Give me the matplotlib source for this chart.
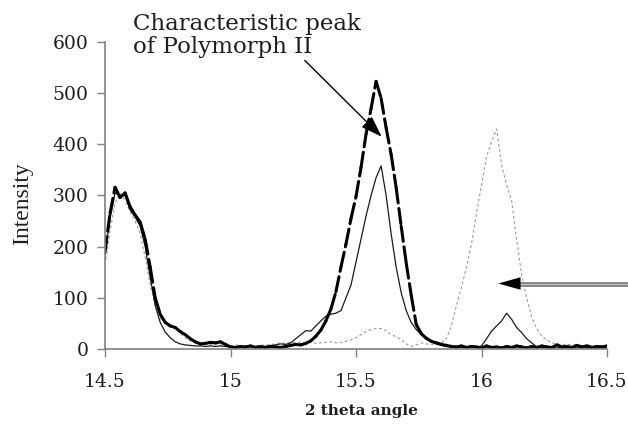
import numpy as np
import matplotlib
matplotlib.use("Agg")
import matplotlib.pyplot as plt
from matplotlib.collections import LineCollection

plt.rcParams['lines.scale_dashes'] = False

# ── data (0.02 deg steps) ─────────────────────────────────────────────────
theta = np.round(np.linspace(14.5, 16.5, 101), 2)

# thick dashed trace (polymorph II peak at 15.58)
trace_dashed = [
    190, 265, 316, 296, 305, 278, 262, 248, 215, 160,
    100, 68, 52, 45, 42, 34, 28, 20, 14, 10,
    11, 13, 12, 14, 9, 4, 3, 5, 4, 6,
    3, 4, 3, 5, 4, 3, 5, 7, 9, 8,
    11, 16, 25, 37, 55, 78, 112, 160, 205, 255,
    298, 355, 420, 470, 523, 490, 432, 380, 315, 240,
    168, 105, 48, 30, 21, 15, 12, 9, 7, 5,
    4, 6, 3, 5, 4, 2, 6, 3, 4, 2,
    5, 3, 6, 4, 2, 5, 3, 6, 4, 3,
    8, 4, 5, 3, 7, 4, 6, 3, 5, 4,
    6]

# thin solid trace
trace_solid = [
    185, 255, 305, 300, 300, 272, 258, 240, 200, 140,
    85, 52, 33, 22, 14, 10, 8, 7, 6, 6,
    5, 6, 5, 6, 5, 4, 4, 5, 4, 5,
    5, 6, 5, 7, 8, 10, 9, 12, 20, 28,
    36, 35, 45, 55, 64, 68, 70, 75, 100, 125,
    170, 215, 260, 300, 335, 358, 300, 225, 160, 110,
    75, 52, 38, 28, 20, 14, 10, 7, 5, 4,
    3, 4, 3, 4, 3, 6, 20, 35, 45, 55,
    70, 58, 42, 32, 20, 12, 4, 3, 2, 3,
    2, 3, 2, 3, 2, 3, 2, 3, 2, 3,
    2]

# grey dotted trace (peak at 16.06)
trace_dotted = [
    165, 230, 285, 305, 290, 268, 250, 225, 180, 125,
    85, 60, 52, 48, 40, 30, 22, 16, 12, 10,
    9, 8, 10, 8, 7, 6, 8, 6, 7, 5,
    6, 8, 7, 9, 10, 12, 11, 13, 12, 14,
    12, 13, 11, 12, 13, 14, 12, 13, 15, 18,
    22, 28, 34, 38, 40, 40, 36, 28, 24, 18,
    10, 5, 8, 12, 10, 9, 10, 12, 20, 45,
    85, 120, 160, 205, 265, 320, 376, 405, 430, 360,
    320, 290, 213, 145, 100, 62, 40, 25, 18, 12,
    10, 8, 10, 7, 9, 6, 8, 7, 5, 7,
    6]

y_ticks = [0, 100, 200, 300, 400, 500, 600]
x_ticks = [14.5, 15, 15.5, 16, 16.5]
x_ticklabels = ['14.5', '15', '15.5', '16', '16.5']

# ── figure ────────────────────────────────────────────────────────────────
fig = plt.figure(figsize=(6.28, 4.25), dpi=100)
ax = fig.add_axes([0.1672, 0.1788, 0.7994, 0.7224])

ax.plot(theta, trace_dotted, color='#9a9a9a', lw=0.8, ls=(0, (2.0, 1.8)))
ax.plot(theta, trace_solid, color='#1a1a1a', lw=0.9)

# dash pattern restarts at every data point (short steps look solid)
pts = np.column_stack([theta, trace_dashed])
segs = np.stack([pts[:-1], pts[1:]], axis=1)
lc = LineCollection(segs, colors='black', linewidths=2.2,
                    linestyles=[(0, (11, 4))], capstyle='round')
ax.add_collection(lc)

ax.set_xlim(14.5, 16.5)
ax.set_ylim(0, 600)
ax.set_xticks(x_ticks)
ax.set_xticklabels(x_ticklabels)
ax.set_yticks(y_ticks)

for s in ('top', 'right'):
    ax.spines[s].set_visible(False)
for s in ('left', 'bottom'):
    ax.spines[s].set_color('#808080')
    ax.spines[s].set_linewidth(1.2)

ax.tick_params(direction='out', length=6, width=1, color='#808080',
               labelcolor='#1e1e1e', labelsize=13.5)
ax.tick_params(axis='y', pad=6)
ax.tick_params(axis='x', pad=11)
for lab in ax.get_xticklabels() + ax.get_yticklabels():
    lab.set_family('DejaVu Serif')

ax.set_ylabel('Intensity', family='Liberation Serif', fontsize=17, color='#1e1e1e')
ax.yaxis.set_label_coords(-0.143, 0.472)
ax.set_xlabel('2 theta angle', family='DejaVu Serif', fontweight='bold',
              fontsize=11, color='#1e1e1e')
ax.xaxis.set_label_coords(0.51, -0.178)

# ── annotations ───────────────────────────────────────────────────────────
fig.text(133 / 628, 1 - 13 / 425, 'Characteristic peak\nof Polymorph II',
         family='DejaVu Serif', fontsize=16.5, color='#1e1e1e',
         ha='left', va='top', linespacing=1.05)

ax.annotate('', xy=(15.602, 415), xytext=(15.296, 564),
            arrowprops=dict(arrowstyle='-|>,head_length=1.3,head_width=0.45',
                            color='black', lw=1, shrinkA=0, shrinkB=0),
            annotation_clip=False)

# grey arrow coming in from the right edge
ax.plot([16.6, 16.12], [128, 128], color='#7a7a7a', lw=3.4,
        solid_capstyle='butt', clip_on=False)
ax.plot([16.6, 16.12], [128, 128], color='#c8c8c8', lw=0.9,
        solid_capstyle='butt', clip_on=False)
ax.annotate('', xy=(16.067, 128), xytext=(16.16, 128),
            arrowprops=dict(arrowstyle='-|>,head_length=1.6,head_width=0.45',
                            color='black', lw=0, shrinkA=0, shrinkB=0),
            annotation_clip=False)

fig.savefig('out.png', dpi=100)
